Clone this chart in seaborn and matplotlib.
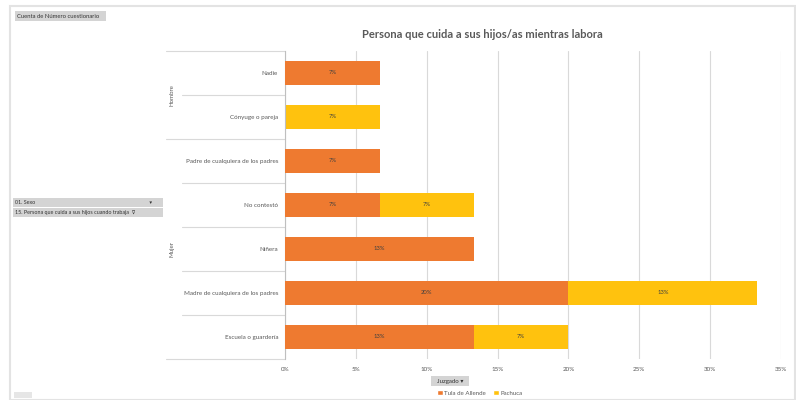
import matplotlib
matplotlib.use("Agg")
import matplotlib.pyplot as plt
from matplotlib.patches import Rectangle, Patch
import seaborn as sns

categorias = ["Nadie", "Cónyuge o pareja", "Padre de cualquiera de los padres",
              "No contestó", "Niñera", "Madre de cualquiera de los padres",
              "Escuela o guardería"]
sexo = ["Hombre", "Hombre", "Mujer", "Mujer", "Mujer", "Mujer", "Mujer"]
tula = [6.67, 0, 6.67, 6.67, 13.33, 20.0, 13.33]
pachuca = [0, 6.67, 0, 6.67, 0, 13.33, 6.67]
ticks_x = [0, 5, 10, 15, 20, 25, 30, 35]

naranja = "#EE7A30"
amarillo = "#FFC20E"
gris_linea = "#D9D9D9"
gris_texto = "#595959"

sns.set_style("white")
plt.rcParams["font.family"] = ["Lato", "DejaVu Sans"]

W, H = 796, 400
fig = plt.figure(figsize=(W / 100, H / 100), dpi=100)

# plot area in pixel coordinates
x0, x1, y0, y1 = 285, 781, 51, 359
ax = fig.add_axes([x0 / W, 1 - y1 / H, (x1 - x0) / W, (y1 - y0) / H])

totales = [t + p for t, p in zip(tula, pachuca)]
sns.barplot(x=totales, y=categorias, orient="h", color=amarillo, saturation=1,
            width=0.53, errorbar=None, ax=ax, zorder=2, linewidth=0)
sns.barplot(x=tula, y=categorias, orient="h", color=naranja, saturation=1,
            width=0.53, errorbar=None, ax=ax, zorder=3, linewidth=0)

# data labels
for i, (t, p) in enumerate(zip(tula, pachuca)):
    if t > 0:
        ax.text(t / 2, i, f"{t:.0f}%", ha="center", va="center", fontsize=4.2,
                color="#404040", zorder=4)
    if p > 0:
        ax.text(t + p / 2, i, f"{p:.0f}%", ha="center", va="center", fontsize=4.2,
                color="#404040", zorder=4)

ax.set_xlim(0, 35)
ax.set_ylim(len(categorias) - 0.5, -0.5)
ax.set_xticks(ticks_x)
ax.set_xticklabels([f"{v}%" for v in ticks_x], fontsize=4.5, color=gris_texto)
ax.set_yticks(range(len(categorias)))
ax.set_yticklabels(categorias, fontsize=4.5, color=gris_texto)
ax.tick_params(axis="both", length=0)
ax.tick_params(axis="y", pad=5)
ax.tick_params(axis="x", pad=6)
ax.set_xlabel("")
ax.set_ylabel("")
ax.grid(axis="x", color=gris_linea, lw=0.8)
ax.set_axisbelow(True)
for s in ["top", "right", "bottom"]:
    ax.spines[s].set_visible(False)
ax.spines["left"].set_color("#BFBFBF")
ax.spines["left"].set_linewidth(0.8)

# category table lines (row and group separators)
tr = ax.get_yaxis_transform()
ancho_px = x1 - x0
for b in range(len(categorias) + 1):
    yb = b - 0.5
    limite = b == 0 or b == len(categorias) or sexo[b - 1] != sexo[b]
    inicio = -(x0 - 166) / ancho_px if limite else -(x0 - 182) / ancho_px
    ax.plot([inicio, 0], [yb, yb], transform=tr, color=gris_linea, lw=0.8,
            clip_on=False)

# group labels
for g in ["Hombre", "Mujer"]:
    idx = [i for i, s in enumerate(sexo) if s == g]
    yc = (idx[0] + idx[-1]) / 2
    ax.text(-(x0 - 172) / ancho_px, yc, g, transform=tr, rotation=90,
            ha="center", va="center", fontsize=4.4, color=gris_texto)

fig.text(482 / W, 1 - 35 / H, "Persona que cuida a sus hijos/as mientras labora",
         fontsize=8, fontweight="bold", color=gris_texto, ha="center", va="center")


def boton(x, y, w, h, texto, ha="left", fs=4.2, fc="#D4D4D4"):
    fig.patches.append(Rectangle((x / W, 1 - (y + h) / H), w / W, h / H,
                                 transform=fig.transFigure, facecolor=fc,
                                 edgecolor="none"))
    tx = x + 2 if ha == "left" else x + w / 2
    fig.text(tx / W, 1 - (y + h / 2) / H, texto, fontsize=fs, color="#333333",
             ha=ha, va="center")


# outer frame
fig.patches.append(Rectangle((10 / W, 0), 785 / W, 1 - 6 / H,
                             transform=fig.transFigure, facecolor="none",
                             edgecolor="#E3E3E3", lw=1.5))

boton(15, 11, 91, 10, "Cuenta de Número cuestionario")
boton(13, 198, 150, 9, "01. Sexo                                                                                   ▾", fs=3.9)
boton(13, 208, 150, 9, "15. Persona que cuida a sus hijos cuando trabaja  ⊽", fs=3.9)
boton(431, 376, 38, 10, "Juzgado ▾", ha="center", fs=4.4)
boton(14, 392, 18, 6, "", fs=3, fc="#E6E6E6")

handles = [Patch(facecolor=naranja), Patch(facecolor=amarillo)]
fig.legend(handles, ["Tula de Allende", "Pachuca"], loc="center",
           bbox_to_anchor=(480 / W, 1 - 393 / H), ncol=2, frameon=False,
           fontsize=4.4, handlelength=0.9, handleheight=0.9, handletextpad=0.3,
           columnspacing=1.2, labelcolor=gris_texto)

fig.savefig("out.png", dpi=100)
